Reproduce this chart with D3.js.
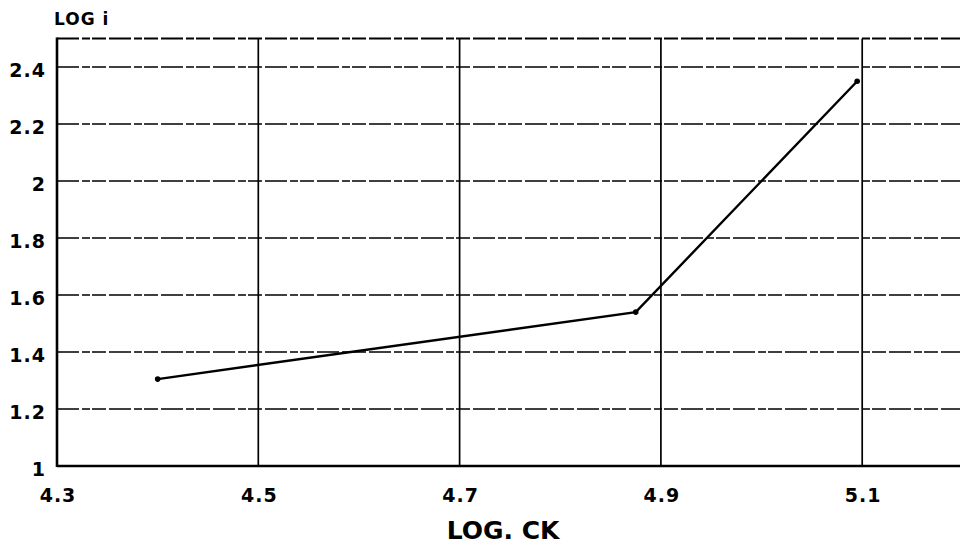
<!DOCTYPE html>
<html>
<head>
<meta charset="utf-8">
<script src="https://cdn.jsdelivr.net/npm/d3@7"></script>
<style>
  body { margin: 0; background: #fff; }
  svg { display: block; }
  .tick-label { font-family: "DejaVu Sans", sans-serif; font-weight: bold; font-size: 19px; fill: #000; letter-spacing: 1px; }
</style>
</head>
<body>
<svg id="chart"></svg>
<script>
// Data
const logCK = [4.40, 4.875, 5.095];
const logI = [1.305, 1.54, 2.35];
const xTicks = [4.3, 4.5, 4.7, 4.9, 5.1];
const yTicks = [1, 1.2, 1.4, 1.6, 1.8, 2, 2.2, 2.4];

const width = 960, height = 547;
const svg = d3.select('#chart').attr('width', width).attr('height', height);

// plot box runs past the right edge of the picture (to 5.3)
const x = d3.scaleLinear().domain([4.3, 5.3]).range([57, 1063.5]);
const y = d3.scaleLinear().domain([1, 2.5]).range([466, 38.5]);

const grid = svg.append('g');

// horizontal grid: rough dashed lines
grid.selectAll('.hgrid')
  .data(yTicks.slice(1).concat([2.5]))
  .enter().append('line')
  .attr('x1', x(4.3)).attr('x2', width)
  .attr('y1', d => y(d)).attr('y2', d => y(d))
  .attr('stroke', '#000')
  .attr('stroke-width', d => d === 2.5 ? 2 : 1.5)
  .attr('stroke-dasharray', '22,3,8,2,14,3');

// vertical grid: solid
grid.selectAll('.vgrid')
  .data(xTicks.slice(1))
  .enter().append('line')
  .attr('x1', d => x(d)).attr('x2', d => x(d))
  .attr('y1', y(2.5)).attr('y2', y(1))
  .attr('stroke', '#000')
  .attr('stroke-width', 1.7);

// axes frame
svg.append('line')
  .attr('x1', x(4.3)).attr('x2', x(4.3))
  .attr('y1', y(2.5) - 1).attr('y2', y(1) + 1)
  .attr('stroke', '#000').attr('stroke-width', 2.6);
svg.append('line')
  .attr('x1', x(4.3)).attr('x2', width)
  .attr('y1', y(1)).attr('y2', y(1))
  .attr('stroke', '#000').attr('stroke-width', 2.6);

// tick labels
svg.selectAll('.ylab')
  .data(yTicks)
  .enter().append('text')
  .attr('class', 'tick-label')
  .attr('x', 46)
  .attr('y', d => y(d) + 10)
  .attr('text-anchor', 'end')
  .text(d => d);

svg.selectAll('.xlab')
  .data(xTicks)
  .enter().append('text')
  .attr('class', 'tick-label')
  .attr('x', d => x(d) + 1)
  .attr('y', 502)
  .attr('text-anchor', 'middle')
  .text(d => d.toFixed(1));

// axis titles
svg.append('text')
  .attr('x', 54).attr('y', 25)
  .attr('font-family', '"DejaVu Sans", sans-serif')
  .attr('font-weight', 'bold')
  .attr('font-size', 17)
  .attr('letter-spacing', 1)
  .text('LOG i');

svg.append('text')
  .attr('x', 503).attr('y', 539)
  .attr('text-anchor', 'middle')
  .attr('font-family', '"DejaVu Sans", sans-serif')
  .attr('font-weight', 'bold')
  .attr('font-size', 25)
  .text('LOG. CK');

// data line
const pts = logCK.map((v, i) => [v, logI[i]]);
svg.append('path')
  .datum(pts)
  .attr('fill', 'none')
  .attr('stroke', '#000')
  .attr('stroke-width', 2.4)
  .attr('d', d3.line().x(d => x(d[0])).y(d => y(d[1])));

svg.selectAll('.pt')
  .data(pts)
  .enter().append('circle')
  .attr('cx', d => x(d[0]))
  .attr('cy', d => y(d[1]))
  .attr('r', 2.8)
  .attr('fill', '#000');
</script>
</body>
</html>
